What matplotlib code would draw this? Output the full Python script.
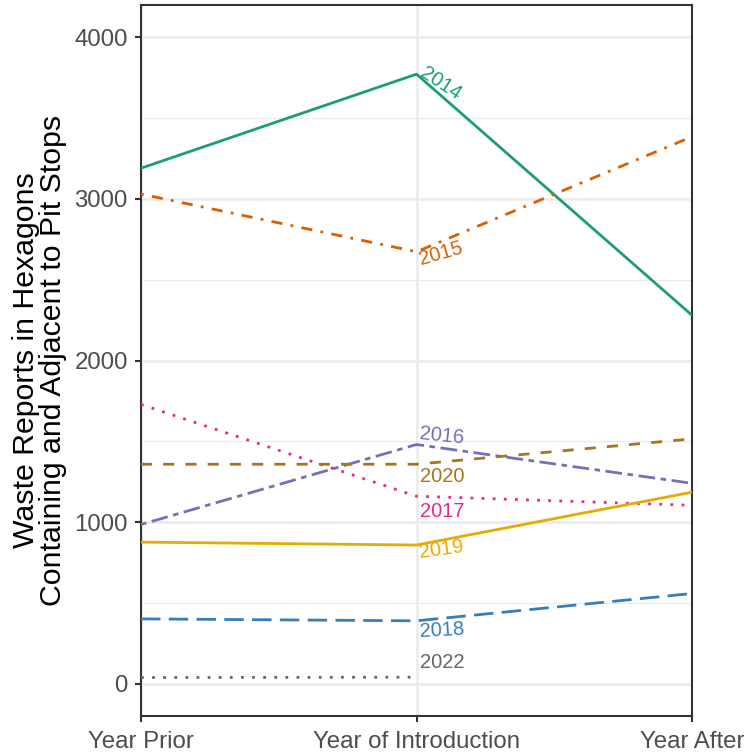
import matplotlib
matplotlib.use("Agg")
import matplotlib.pyplot as plt

plt.rcParams['font.family'] = ['Liberation Sans', 'DejaVu Sans']

periods = ["Year Prior", "Year of Introduction", "Year After"]
years = ["2014", "2015", "2016", "2017", "2018", "2019", "2020", "2022"]
values = {
    "2014": [3190, 3772, 2280],
    "2015": [3030, 2673, 3385],
    "2016": [985, 1480, 1240],
    "2017": [1728, 1160, 1104],
    "2018": [401, 389, 558],
    "2019": [876, 858, 1185],
    "2020": [1358, 1358, 1515],
    "2022": [38, 40, None],
}
colors = {
    "2014": "#1B9E77", "2015": "#D95F02", "2016": "#7570B3", "2017": "#E7298A",
    "2018": "#377EB8", "2019": "#E6AB02", "2020": "#A6761D", "2022": "#666666",
}
dashes = {
    "2014": None, "2015": (1, 3, 4, 3), "2016": (2, 2, 6, 2), "2017": (1, 3),
    "2018": (7, 3), "2019": None, "2020": (4, 4), "2022": (1, 3),
}
# label styling: (dx px, dy px, rotation)
label_style = {
    "2014": (5, 3, -33),
    "2015": (3, -8, 16),
    "2016": (3, 11, -6),
    "2020": (3, -12, 0),
    "2017": (3, -15, 0),
    "2019": (3, -8, 8),
    "2018": (3, -11, 3),
    "2022": (3, 15, 0),
}

fig = plt.figure(figsize=(7.5, 7.53), dpi=100)
ax = fig.add_axes([141/750, 1 - 716/753, (692-141)/750, (716-5)/753])

xs = list(range(len(periods)))
for y in years:
    vals = values[y]
    px = [x for x, v in zip(xs, vals) if v is not None]
    pv = [v for v in vals if v is not None]
    ln, = ax.plot(px, pv, color=colors[y], lw=2.0, solid_capstyle='butt',
                  dash_capstyle='butt', zorder=3)
    if dashes[y] is not None:
        ln.set_dashes(dashes[y])
    dx, dy, rot = label_style[y]
    ax.annotate(y, xy=(1, vals[1]), xytext=(dx, dy), textcoords='offset pixels',
                color=colors[y], fontsize=14.5, rotation=rot, ha='left', va='center',
                rotation_mode='anchor', zorder=4)

ax.set_xlim(0, 2)
ax.set_ylim(-200, 4200)
ax.set_xticks(xs)
ax.set_xticklabels(periods)
ax.set_yticks([0, 1000, 2000, 3000, 4000])
ax.set_yticks([500, 1500, 2500, 3500], minor=True)
ax.grid(True, which='major', color='#EBEBEB', lw=1.8, zorder=0)
ax.grid(True, which='minor', axis='y', color='#EBEBEB', lw=0.9, zorder=0)
ax.set_axisbelow(True)
ax.tick_params(axis='both', which='major', length=4, width=1.5, color='#333333',
               labelsize=17.3, labelcolor='#4D4D4D')
ax.tick_params(axis='x', which='major', pad=6.5)
ax.tick_params(axis='y', which='major', pad=5.5)
ax.tick_params(axis='y', which='minor', length=0)
for s in ax.spines.values():
    s.set_color('#333333')
    s.set_linewidth(1.5)
ax.set_ylabel("Waste Reports in Hexagons\nContaining and Adjacent to Pit Stops",
              fontsize=21.8, color='black', labelpad=5, linespacing=0.95)

fig.savefig("out.png", dpi=100)
